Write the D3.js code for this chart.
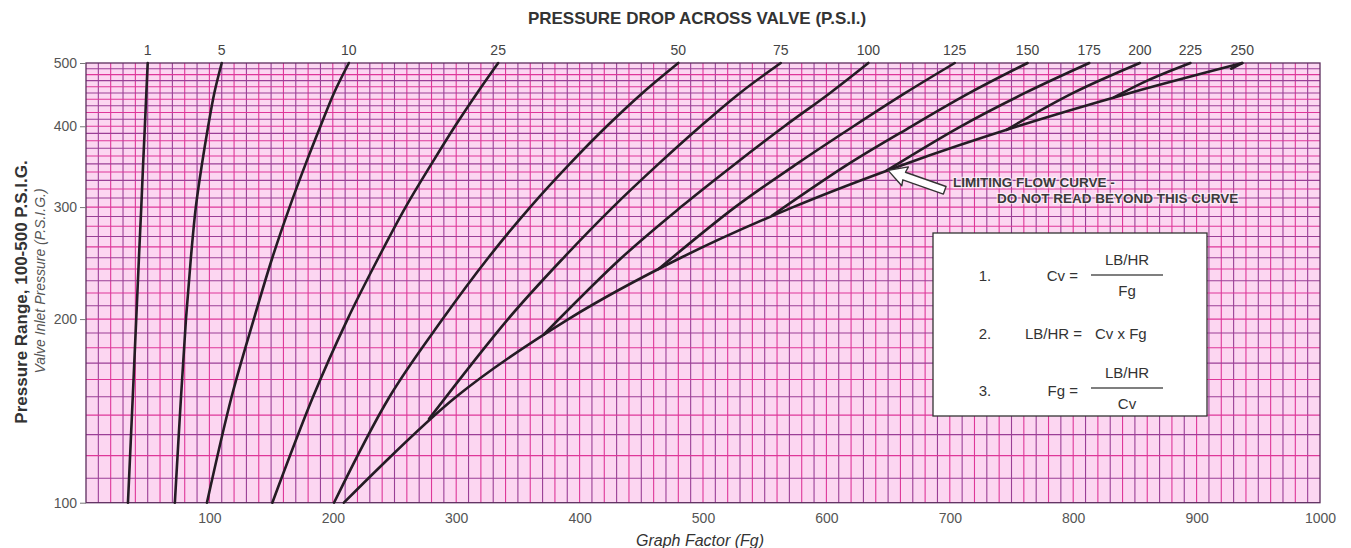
<!DOCTYPE html>
<html><head><meta charset="utf-8">
<script src="https://cdn.jsdelivr.net/npm/d3@7"></script>
<style>
body{margin:0;background:#fff;}
svg{display:block;font-family:"Liberation Sans",Arial,Helvetica,sans-serif;}
</style>
</head><body>
<svg id="chart" width="1351" height="548"></svg>
<script>
// ---------- data ----------
const ATM = 14.7;                       // absolute-pressure offset used by the log axis
const fgTicks = [100,200,300,400,500,600,700,800,900,1000];
const pTicks  = [100,200,300,400,500];
const dropLabels = ["1","5","10","25","50","75","100","125","150","175","200","225","250"];

// each curve: [inlet pressure psig, graph factor Fg]
const drop1   = [[100,34],[150,37.9],[200,40.7],[250,42.9],[300,44.8],[350,46.3],[400,47.7],[450,48.9],[500,50]];
const drop5   = [[100,72],[150,77],[200,81],[250,85],[300,89],[350,94],[400,99],[450,104],[500,110]];
const drop10  = [[100,98],[150,118],[200,136],[250,151],[300,165],[350,178],[400,190],[450,201],[500,213]];
const drop25  = [[100,151],[150,184],[200,212],[250,237],[300,259],[350,280],[400,299],[450,317],[500,334]];
const drop50  = [[100,201],[150,246],[200,289],[250,326],[300,360],[350,392],[400,422],[450,451],[500,480]];
const drop75  = [[138,278],[200,342],[250,387],[300,427],[350,464],[400,498],[450,530],[500,563]];
const drop100 = [[189,371],[250,434],[300,482],[350,526],[400,566],[450,603],[500,634]];
const drop125 = [[240,464],[300,526],[350,576],[400,622],[450,664],[500,704]];
const drop150 = [[291,556],[350,618],[400,669],[450,716],[500,763]];
const drop175 = [[342,649],[400,709],[450,761],[500,813]];
const drop200 = [[395,746],[450,800],[500,854]];
const drop225 = [[443,833],[470,860],[500,895]];
const drop250 = [[490,928],[500,937]];
const limiting = [[100,209],[150,300],[200,391],[250,482],[300,573],[350,664],[400,755],[450,846],[500,937]];

const dropCurves = [drop1,drop5,drop10,drop25,drop50,drop75,drop100,drop125,drop150,drop175,drop200,drop225,drop250];

// ---------- layout ----------
const L = 86, R = 1320, T = 63, B = 502.7;
const svg = d3.select("#chart");
const x = d3.scaleLinear().domain([0,1000]).range([L,R]);
const y = d3.scaleLog().domain([100+ATM, 500+ATM]).range([B,T]);
const py = p => y(p + ATM);

// background
svg.append("rect").attr("x",L).attr("y",T).attr("width",R-L).attr("height",B-T).attr("fill","#fcd6f1");

// grid
const grid = svg.append("g");
grid.selectAll(".vg").data(d3.range(10,1000,10)).join("line")
  .attr("x1",d=>x(d)).attr("x2",d=>x(d)).attr("y1",T).attr("y2",B)
  .attr("stroke",(d,i)=> i%2 ? "#de3799" : "#9a3f96").attr("stroke-width",1.1);
grid.selectAll(".hg").data(d3.range(110,500,10)).join("line")
  .attr("x1",L).attr("x2",R).attr("y1",d=>py(d)).attr("y2",d=>py(d))
  .attr("stroke",(d,i)=> i%2 ? "#de3799" : "#9a3f96").attr("stroke-width",1.1);

svg.append("rect").attr("x",L).attr("y",T).attr("width",R-L).attr("height",B-T)
  .attr("fill","none").attr("stroke","#5c2d5e").attr("stroke-width",1.3);

// axes
const yAxis = svg.append("g").attr("transform",`translate(${L},0)`)
  .call(d3.axisLeft(y).tickValues(pTicks.map(p=>p+ATM)).tickFormat(d=>String(Math.round(d-ATM))).tickSize(6).tickPadding(3));
yAxis.select(".domain").remove();
yAxis.selectAll("line").attr("stroke","#777");
yAxis.selectAll("text").attr("font-size",14).attr("fill","#555").attr("font-family","Liberation Sans, Arial, sans-serif");

const xAxis = svg.append("g").attr("transform",`translate(0,${B})`)
  .call(d3.axisBottom(x).tickValues(fgTicks).tickFormat(d3.format("d")).tickSize(0).tickPadding(10));
xAxis.select(".domain").remove();
xAxis.selectAll("text").attr("font-size",14).attr("fill","#555").attr("font-family","Liberation Sans, Arial, sans-serif");

// curves
const line = d3.line().x(d=>x(d[1])).y(d=>py(d[0])).curve(d3.curveCatmullRom.alpha(0.5));
const curveG = svg.append("g").attr("fill","none").attr("stroke","#241c24").attr("stroke-width",2.6).attr("stroke-linecap","round");
curveG.append("path").attr("d",line(limiting));
dropCurves.forEach(c => curveG.append("path").attr("d",line(c)));

// top labels (pressure drop)
svg.append("g").selectAll("text").data(dropCurves).join("text")
  .attr("x",d=>x(d[d.length-1][1])).attr("y",55).attr("text-anchor","middle")
  .attr("font-size",14).attr("fill","#444").text((d,i)=>dropLabels[i]);

// titles
svg.append("text").attr("x",697).attr("y",24).attr("text-anchor","middle")
  .attr("font-size",17).attr("font-weight","bold").attr("fill","#333")
  .text("PRESSURE DROP ACROSS VALVE (P.S.I.)");
svg.append("text").attr("transform","translate(27,292) rotate(-90)").attr("text-anchor","middle")
  .attr("font-size",17).attr("font-weight","bold").attr("fill","#333")
  .text("Pressure Range, 100-500 P.S.I.G.");
svg.append("text").attr("transform","translate(45,281) rotate(-90)").attr("text-anchor","middle")
  .attr("font-size",14).attr("font-style","italic").attr("fill","#555")
  .text("Valve Inlet Pressure (P.S.I.G.)");
svg.append("text").attr("x",700).attr("y",546).attr("text-anchor","middle")
  .attr("font-size",16).attr("font-style","italic").attr("fill","#333")
  .text("Graph Factor (Fg)");

// limiting-flow arrow annotation
const tip = [x(650), py(342)];
const ang = Math.atan2(20, 57);
const arrowPts = [[0,0],[18,-10],[17,-4],[60,-4],[60,4],[17,4],[18,10]];
svg.append("polygon")
  .attr("points", arrowPts.map(p=>p.join(",")).join(" "))
  .attr("transform",`translate(${tip[0]},${tip[1]}) rotate(${ang*180/Math.PI})`)
  .attr("fill","#fff").attr("stroke","#333").attr("stroke-width",1.4).attr("stroke-linejoin","round");

const ann = svg.append("g").attr("font-size",13.5).attr("font-weight","bold").attr("fill","#3a3a3a")
  .attr("stroke","#fff").attr("stroke-width",2.5).attr("stroke-opacity",0.6).attr("paint-order","stroke");
ann.append("text").attr("x",953).attr("y",187).text("LIMITING FLOW CURVE -");
ann.append("text").attr("x",997).attr("y",203).text("DO NOT READ BEYOND THIS CURVE");

// formula box
const box = svg.append("g");
box.append("rect").attr("x",933).attr("y",233).attr("width",274).attr("height",183)
  .attr("fill","#fff").attr("stroke","#333").attr("stroke-width",1.3);
const bt = box.append("g").attr("font-size",15).attr("fill","#333");
function frac(cx, cy, num, den){
  bt.append("text").attr("x",cx).attr("y",cy-10).attr("text-anchor","middle").text(num);
  bt.append("line").attr("x1",cx-36).attr("x2",cx+36).attr("y1",cy).attr("y2",cy).attr("stroke","#555").attr("stroke-width",1.3);
  bt.append("text").attr("x",cx).attr("y",cy+21).attr("text-anchor","middle").text(den);
}
bt.append("text").attr("x",985).attr("y",281).attr("text-anchor","middle").text("1.");
bt.append("text").attr("x",1078).attr("y",281).attr("text-anchor","end").text("Cv =");
frac(1127,275,"LB/HR","Fg");
bt.append("text").attr("x",985).attr("y",339).attr("text-anchor","middle").text("2.");
bt.append("text").attr("x",1082).attr("y",339).attr("text-anchor","end").text("LB/HR =");
bt.append("text").attr("x",1095).attr("y",339).text("Cv x Fg");
bt.append("text").attr("x",985).attr("y",396).attr("text-anchor","middle").text("3.");
bt.append("text").attr("x",1078).attr("y",396).attr("text-anchor","end").text("Fg =");
frac(1127,388,"LB/HR","Cv");
</script>
</body></html>
